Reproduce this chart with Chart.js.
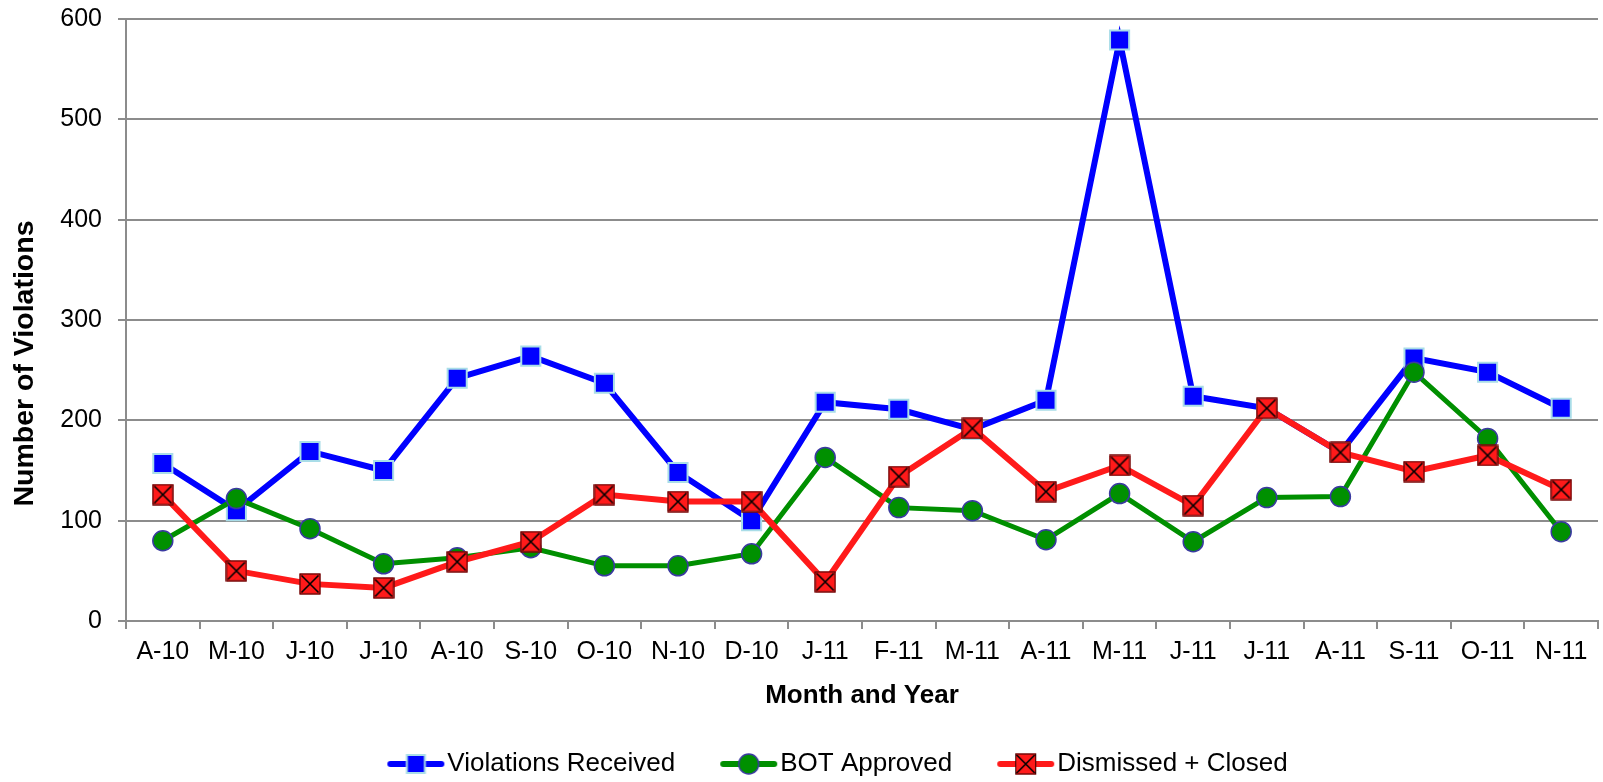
<!DOCTYPE html>
<html>
<head>
<meta charset="utf-8">
<script src="https://cdn.jsdelivr.net/npm/chart.js@4.4.1/dist/chart.umd.min.js"></script>
<style>
  body { margin: 0; background: #fff; }
  #wrap { width: 1603px; height: 782px; }
</style>
</head>
<body>
<div id="wrap"><canvas id="violationsChart"></canvas></div>
<script>
// months Apr 2010 .. Nov 2011
const months = ['A-10', 'M-10', 'J-10', 'J-10', 'A-10', 'S-10', 'O-10', 'N-10', 'D-10',
  'J-11', 'F-11', 'M-11', 'A-11', 'M-11', 'J-11', 'J-11', 'A-11', 'S-11', 'O-11', 'N-11'];
const received = [157, 110, 169, 150, 242, 264, 237, 148, 100, 218, 211, 191, 220, 579, 224, 212, 168, 262, 248, 212];
const approved = [80, 122, 92, 57, 63, 73, 55, 55, 67, 163, 113, 110, 81, 127, 79, 123, 124, 248, 182, 89];
const dismissed = [126, 50, 37, 33, 59, 79, 126, 119, 119, 39, 144, 192, 129, 155, 115, 212, 168, 149, 165, 131];
const seriesNames = ['Violations Received', 'BOT Approved', 'Dismissed + Closed'];

const BLUE = '#0000ff';
const GREEN = '#008f00';
const RED = '#ff1a1a';
const GRID = '#8c8c8c';
const FONT = "'Liberation Sans', Arial, sans-serif";

// marker painters, centred on (x, y)
function drawSquare(g, x, y) {
    g.fillStyle = '#a9dde8';
    g.fillRect(x - 10, y - 10, 20, 20);
    g.fillStyle = BLUE;
    g.fillRect(x - 8, y - 8, 16, 16);
}
function drawCircle(g, x, y) {
    g.beginPath();
    g.arc(x, y, 10, 0, Math.PI * 2);
    g.fillStyle = '#009000';
    g.fill();
    g.lineWidth = 1.5;
    g.strokeStyle = '#3a3aa0';
    g.stroke();
}
function drawCross(g, x, y) {
    const h = 10.5;
    g.fillStyle = RED;
    g.fillRect(x - h, y - h, 2 * h, 2 * h);
    g.strokeStyle = '#300';
    g.lineWidth = 1;
    g.strokeRect(x - h + 0.5, y - h + 0.5, 2 * h - 1, 2 * h - 1);
    g.strokeStyle = '#000';
    g.lineWidth = 1.6;
    g.beginPath();
    g.moveTo(x - h + 2, y - h + 2); g.lineTo(x + h - 2, y + h - 2);
    g.moveTo(x + h - 2, y - h + 2); g.lineTo(x - h + 2, y + h - 2);
    g.stroke();
}

function crossMarker() {
    const c = document.createElement('canvas');
    c.width = 22; c.height = 22;
    drawCross(c.getContext('2d'), 11, 11);
    return c;
}

// legend icon: line with marker, drawn in the right part of the image
function legendIcon(color, lw, mark) {
    const c = document.createElement('canvas');
    c.width = 114; c.height = 24;
    const g = c.getContext('2d');
    g.strokeStyle = color;
    g.lineWidth = lw;
    g.lineCap = 'round';
    g.beginPath();
    g.moveTo(59, 12); g.lineTo(110, 12);
    g.stroke();
    mark(g, 84.5, 12);
    return c;
}

const icons = [
    legendIcon(BLUE, 6, drawSquare),
    legendIcon(GREEN, 6, drawCircle),
    legendIcon(RED, 6, drawCross)
];

const nudgeLegend = {
    id: 'nudgeLegend',
    afterLayout(chart) {
        const lg = chart.legend;
        lg.left += 16; lg.right += 16;
        lg.top += 5; lg.bottom += 5;
    }
};

// trailing spaces push the rotated title a little below the axis centre
const yTitle = 'Number of Violations' + ' '.repeat(11);

new Chart(document.getElementById('violationsChart'), {
    type: 'line',
    data: {
        labels: months,
        datasets: [{
            label: seriesNames[0],
            data: received,
            borderColor: BLUE,
            borderWidth: 6,
            pointStyle: 'rect',
            pointRadius: 13.5,
            pointBackgroundColor: BLUE,
            pointBorderColor: '#a9dde8',
            pointBorderWidth: 2,
            order: 3
        }, {
            label: seriesNames[1],
            data: approved,
            borderColor: GREEN,
            borderWidth: 5,
            pointStyle: 'circle',
            pointRadius: 10,
            pointBackgroundColor: '#009000',
            pointBorderColor: '#3a3aa0',
            pointBorderWidth: 1.5,
            order: 2
        }, {
            label: seriesNames[2],
            data: dismissed,
            borderColor: RED,
            borderWidth: 6,
            pointStyle: crossMarker(),
            pointRadius: 11,
            order: 1
        }]
    },
    options: {
        responsive: true,
        maintainAspectRatio: false,
        animation: false,
        events: [],
        layout: { autoPadding: false, padding: { top: 19, right: 5, left: 0, bottom: 0 } },
        scales: {
            x: {
                offset: true,
                afterFit: (s) => { s.height = 125; },
                grid: { offset: true, drawOnChartArea: false, color: GRID, lineWidth: 2, tickLength: 8 },
                border: { color: GRID, width: 2 },
                ticks: { color: '#000', padding: 8, font: { family: FONT, size: 25 }, autoSkip: false, maxRotation: 0 },
                title: {
                    display: true,
                    text: 'Month and Year',
                    color: '#000',
                    font: { family: FONT, size: 26, weight: 'bold' },
                    padding: { top: 4, bottom: 35 }
                }
            },
            y: {
                min: 0,
                max: 600,
                afterFit: (s) => { s.width = 126; s.paddingTop = 0; s.paddingBottom = 0; },
                grid: { color: GRID, lineWidth: 2, tickLength: 8 },
                border: { color: GRID, width: 2 },
                ticks: { stepSize: 100, color: '#000', padding: 16, font: { family: FONT, size: 25 } },
                title: {
                    display: true,
                    text: yTitle,
                    color: '#000',
                    font: { family: FONT, size: 28.5, weight: 'bold' },
                    padding: { top: 8, bottom: 0 }
                }
            }
        },
        plugins: {
            tooltip: { enabled: false },
            legend: {
                position: 'bottom',
                labels: {
                    usePointStyle: true,
                    pointStyleWidth: 92,
                    padding: 0,
                    color: '#000',
                    font: { family: FONT, size: 26 },
                    generateLabels: (chart) => chart.data.datasets.map((ds, i) => ({
                        text: ds.label,
                        pointStyle: icons[i],
                        fillStyle: ds.borderColor,
                        strokeStyle: ds.borderColor,
                        lineWidth: 0,
                        hidden: false,
                        datasetIndex: i
                    }))
                }
            }
        }
    },
    plugins: [nudgeLegend]
});
</script>
</body>
</html>
